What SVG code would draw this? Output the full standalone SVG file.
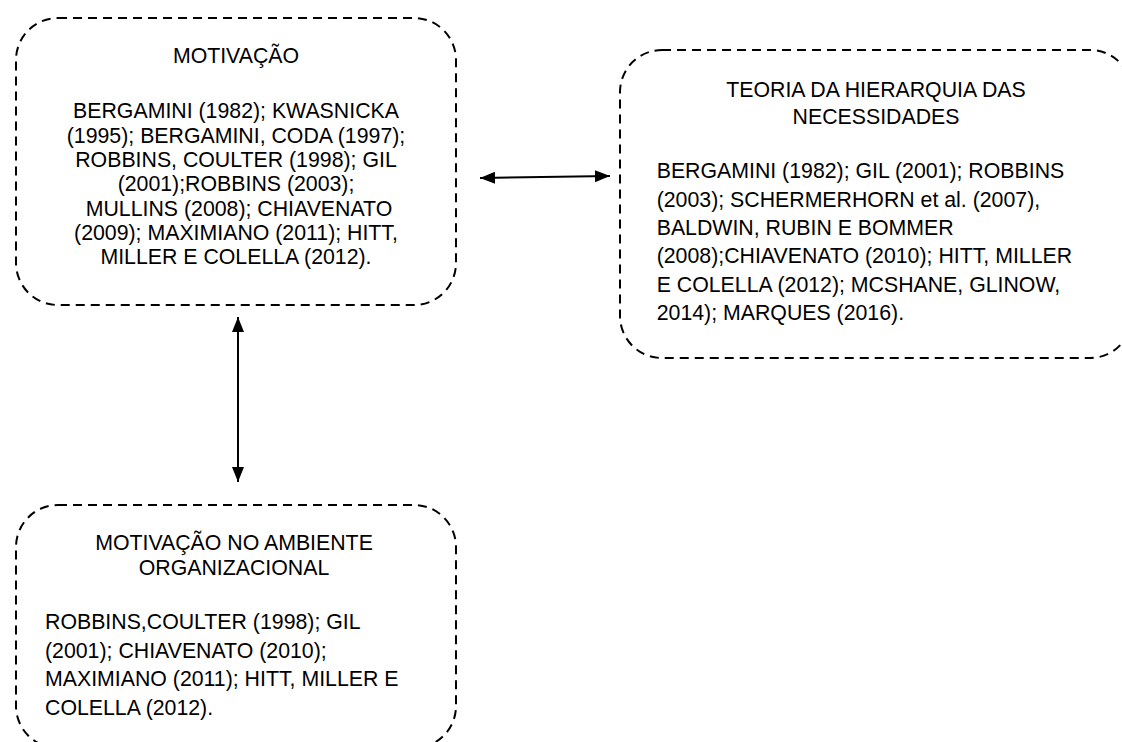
<svg xmlns="http://www.w3.org/2000/svg" width="1122" height="742" viewBox="0 0 1122 742">
<style>
.box{fill:none;stroke:#000;stroke-width:2;stroke-dasharray:9 6}
.t{font-family:"Liberation Sans",Arial,sans-serif;font-size:21.3px;fill:#000}
.c{text-anchor:middle}
.conn{stroke:#000;stroke-width:2;fill:none}
</style>
<defs>
<marker id="ah" viewBox="0 0 15 12" refX="15" refY="6" markerWidth="15" markerHeight="12" markerUnits="userSpaceOnUse" orient="auto-start-reverse">
<path d="M0,0 L15,6 L0,12 Z" fill="#000"/>
</marker>
</defs>
<rect width="1122" height="742" fill="#fff"/>
<g id="node-motivacao">
<rect class="box" x="16" y="18" width="440" height="287" rx="42" ry="42"/>
<text class="t c" x="236" y="63">MOTIVAÇÃO</text>
<text class="t c" x="236" y="118">BERGAMINI (1982); KWASNICKA</text>
<text class="t c" x="236" y="142.5">(1995); BERGAMINI, CODA (1997);</text>
<text class="t c" x="236" y="167">ROBBINS, COULTER (1998); GIL</text>
<text class="t c" x="236" y="191">(2001);ROBBINS (2003);</text>
<text class="t c" x="239" y="215.5">MULLINS (2008); CHIAVENATO</text>
<text class="t c" x="236" y="240">(2009); MAXIMIANO (2011); HITT,</text>
<text class="t c" x="236" y="264">MILLER E COLELLA (2012).</text>
</g>
<g id="node-teoria">
<rect class="box" x="620" y="50" width="512" height="308" rx="42" ry="42"/>
<text class="t c" x="876" y="97">TEORIA DA HIERARQUIA DAS</text>
<text class="t c" x="876" y="123.5">NECESSIDADES</text>
<text class="t" x="656.7" y="178">BERGAMINI (1982); GIL (2001); ROBBINS</text>
<text class="t" x="656.7" y="206.5">(2003); SCHERMERHORN et al. (2007),</text>
<text class="t" x="656.7" y="235">BALDWIN, RUBIN E BOMMER</text>
<text class="t" x="656.7" y="263">(2008);CHIAVENATO (2010); HITT, MILLER</text>
<text class="t" x="656.7" y="291.5">E COLELLA (2012); MCSHANE, GLINOW,</text>
<text class="t" x="656.7" y="320">2014); MARQUES (2016).</text>
</g>
<g id="node-ambiente">
<rect class="box" x="16" y="505" width="440" height="243" rx="42" ry="42"/>
<text class="t c" x="234" y="550">MOTIVAÇÃO NO AMBIENTE</text>
<text class="t c" x="234" y="575">ORGANIZACIONAL</text>
<text class="t" x="45" y="629">ROBBINS,COULTER (1998); GIL</text>
<text class="t" x="45" y="657.5">(2001); CHIAVENATO (2010);</text>
<text class="t" x="45" y="686">MAXIMIANO (2011); HITT, MILLER E</text>
<text class="t" x="45" y="714.5">COLELLA (2012).</text>
</g>
<g id="connectors">
<line class="conn" x1="480" y1="178" x2="610" y2="176" marker-start="url(#ah)" marker-end="url(#ah)"/>
<line class="conn" x1="238" y1="317" x2="238" y2="482" marker-start="url(#ah)" marker-end="url(#ah)"/>
</g>
</svg>
